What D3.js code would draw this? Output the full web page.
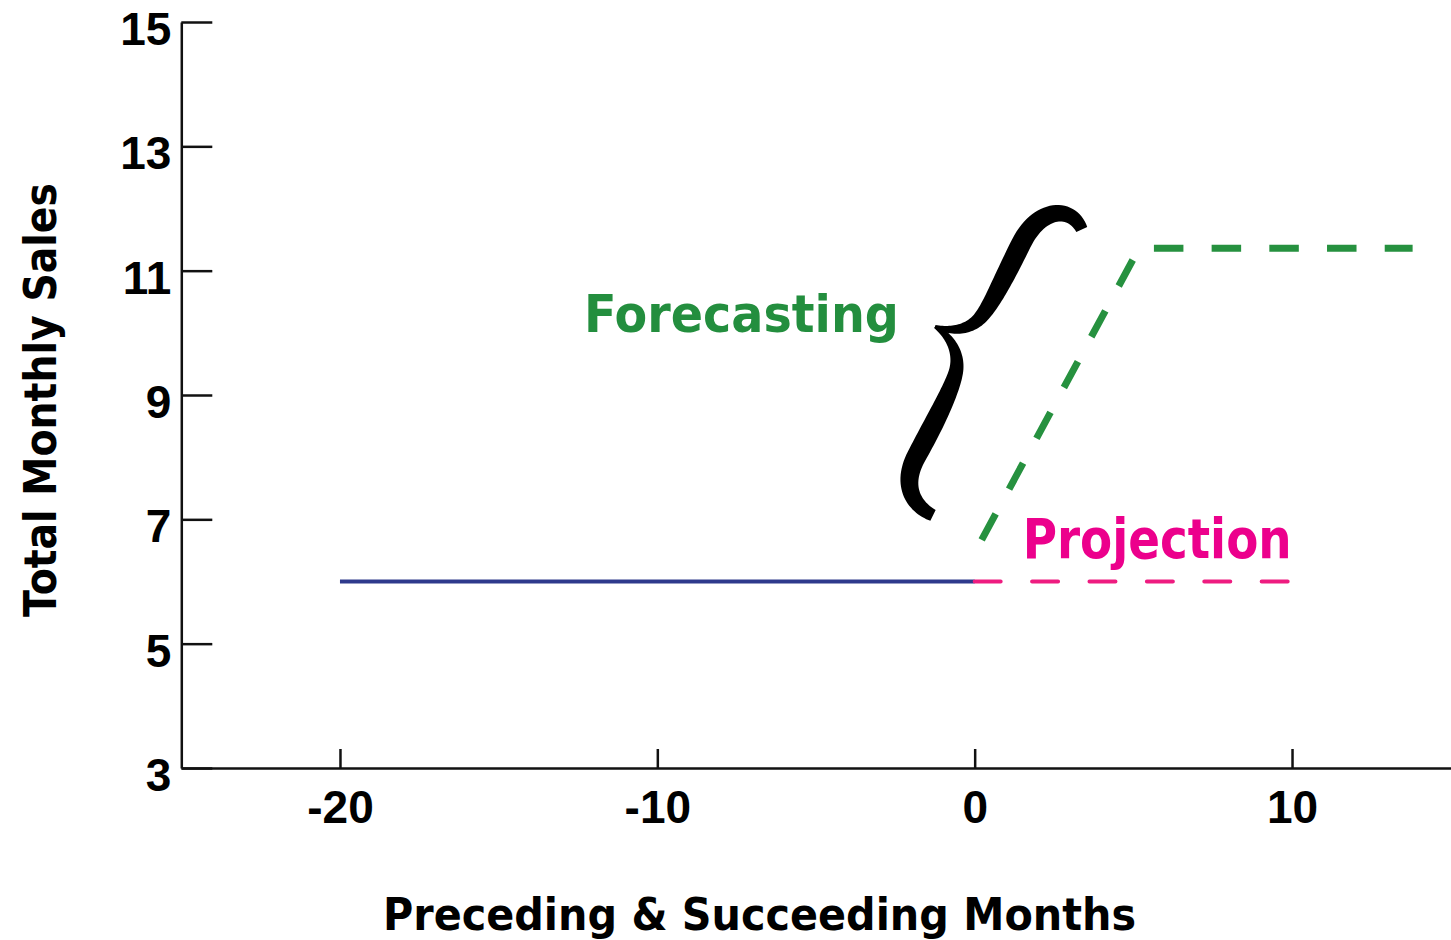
<!DOCTYPE html>
<html>
<head>
<meta charset="utf-8">
<script src="https://cdn.jsdelivr.net/npm/d3@7"></script>
<style>
    body { margin: 0; background: #fff; }
</style>
</head>
<body>
<script>
/************** data **************/
let xTicks = [-20, -10, 0, 10];
let yTicks = [3, 5, 7, 9, 11, 13, 15];

let pastSales = [[-20, 6], [0, 6]];                      // actual sales, solid
let projection = [[0, 6], [10, 6]];                      // flat projection
let forecast = [[0.22, 6.67], [5.18, 11.36], [13.8, 11.36]];

let labels = [
    { text: 'Forecasting', x: -7.35, y: 10.02, color: '#238E3E', size: 52, width: 315 },
    { text: 'Projection', x: 5.75, y: 6.38, color: '#EC008C', size: 55, width: 269 }
];
let braceTip = [-1.25, 10.1];                            // left point of the curly brace
/************** data **************/

let w = 1451;
let h = 940;

let svg = d3.select('body')
    .append('svg')
    .attr('width', w)
    .attr('height', h);

let xScale = d3.scaleLinear()
    .domain([-25, 15])
    .range([181.3, 1450.7]);

let yScale = d3.scaleLinear()
    .domain([3, 15])
    .range([768, 22]);

let line = d3.line()
    .x(function(d) { return xScale(d[0]); })
    .y(function(d) { return yScale(d[1]); });

/************** axes **************/
let xAxis = d3.axisBottom(xScale)
    .tickValues(xTicks)
    .tickFormat(function(d) { return String(d); })   // plain hyphen, not unicode minus
    .tickSizeInner(-19)          // ticks point up into the plot
    .tickSizeOuter(0)
    .tickPadding(0);

let yAxis = d3.axisLeft(yScale)
    .tickValues(yTicks)
    .tickFormat(function(d) { return String(d); })
    .tickSizeInner(-31)          // ticks point right
    .tickSizeOuter(0)
    .tickPadding(10);

let gx = svg.append('g')
    .attr('transform', 'translate(0,' + yScale(3) + ')')
    .call(xAxis);

let gy = svg.append('g')
    .attr('transform', 'translate(' + xScale(-25) + ',0)')
    .call(yAxis);

[gx, gy].forEach(function(g) {
    g.selectAll('path, line')
        .attr('stroke', '#111')
        .attr('stroke-width', 2.5);
    g.selectAll('text')
        .attr('fill', '#000')
        .attr('font-family', '"Liberation Sans", Arial, sans-serif')
        .attr('font-weight', 'bold')
        .attr('font-size', '46px');
});

gx.selectAll('text')
    .attr('y', 55)
    .attr('dy', 0);

gy.selectAll('text')
    .attr('dy', 22.5);

/************** lines **************/
svg.append('path')
    .datum(pastSales)
    .attr('d', line)
    .attr('fill', 'none')
    .attr('stroke', '#2E3A8C')
    .attr('stroke-width', 4);

svg.append('path')
    .datum(projection)
    .attr('d', line)
    .attr('fill', 'none')
    .attr('stroke', '#EE1C80')
    .attr('stroke-width', 4)
    .attr('stroke-linecap', 'round')
    .attr('stroke-dasharray', '26 31.4');

svg.append('path')
    .datum(forecast)
    .attr('d', line)
    .attr('fill', 'none')
    .attr('stroke', '#26913F')
    .attr('stroke-width', 7)
    .attr('stroke-dasharray', '29.5 28.2');

/************** curly brace **************/
// brace drawn upright in local px, cusp at origin, then rotated into place
let braceHalves = [
    [[[92, -150], [72, -168], [44, -152], [43, -112]],
     [[43, -112], [42, -75], [42, -45], [38, -30]],
     [[38, -30], [34, -12], [18, -2], [0, 0]]],
    [[[78, 172], [58, 172], [36, 160], [38, 125]],
     [[38, 125], [40, 90], [42, 50], [38, 32]],
     [[38, 32], [34, 14], [18, 2], [0, 0]]]
];

function bez(p, t) {
    let u = 1 - t;
    return [
        u*u*u*p[0][0] + 3*u*u*t*p[1][0] + 3*u*t*t*p[2][0] + t*t*t*p[3][0],
        u*u*u*p[0][1] + 3*u*u*t*p[1][1] + 3*u*t*t*p[2][1] + t*t*t*p[3][1]
    ];
}

function halfOutline(segs) {
    let pts = [];
    segs.forEach(function(s, i) {
        for (let k = (i === 0 ? 0 : 1); k <= 30; k++) pts.push(bez(s, k / 30));
    });
    let len = [0];
    for (let i = 1; i < pts.length; i++) {
        len.push(len[i-1] + Math.hypot(pts[i][0] - pts[i-1][0], pts[i][1] - pts[i-1][1]));
    }
    let total = len[len.length - 1];
    let a = [], b = [];
    pts.forEach(function(p, i) {
        let p0 = pts[Math.max(0, i - 1)], p1 = pts[Math.min(pts.length - 1, i + 1)];
        let dx = p1[0] - p0[0], dy = p1[1] - p0[1], n = Math.hypot(dx, dy);
        let v = len[i] / total;
        let wd = 3 + 17 * Math.pow(Math.max(0, Math.sin(Math.PI * (0.15 + 0.85 * v))), 0.8);
        a.push([p[0] - dy / n * wd / 2, p[1] + dx / n * wd / 2]);
        b.push([p[0] + dy / n * wd / 2, p[1] - dx / n * wd / 2]);
    });
    return a.concat(b.reverse());
}

let braceG = svg.append('g')
    .attr('transform', 'translate(' + xScale(braceTip[0]) + ',' + yScale(braceTip[1]) + ') rotate(25)');

braceHalves.forEach(function(segs) {
    braceG.append('path')
        .attr('d', d3.line()(halfOutline(segs)) + 'Z')
        .attr('fill', '#000');
});

/************** text **************/
let titleFont = '"DejaVu Sans", Verdana, sans-serif';

svg.selectAll('text.note')
    .data(labels)
    .enter()
    .append('text')
    .attr('class', 'note')
    .text(function(d) { return d.text; })
    .attr('x', function(d) { return xScale(d.x); })
    .attr('y', function(d) { return yScale(d.y); })
    .attr('text-anchor', 'middle')
    .attr('textLength', function(d) { return d.width; })
    .attr('lengthAdjust', 'spacingAndGlyphs')
    .attr('font-family', titleFont)
    .attr('font-weight', 'bold')
    .attr('font-size', function(d) { return d.size + 'px'; })
    .attr('fill', function(d) { return d.color; });

svg.append('text')
    .text('Preceding & Succeeding Months')
    .attr('x', 759.5)
    .attr('y', 930)
    .attr('text-anchor', 'middle')
    .attr('textLength', 753)
    .attr('lengthAdjust', 'spacingAndGlyphs')
    .attr('font-family', titleFont)
    .attr('font-weight', 'bold')
    .attr('font-size', '44px')
    .attr('fill', '#000');

svg.append('text')
    .text('Total Monthly Sales')
    .attr('transform', 'translate(56,400) rotate(-90)')
    .attr('text-anchor', 'middle')
    .attr('textLength', 434)
    .attr('lengthAdjust', 'spacingAndGlyphs')
    .attr('font-family', titleFont)
    .attr('font-weight', 'bold')
    .attr('font-size', '44px')
    .attr('fill', '#000');
</script>
</body>
</html>
